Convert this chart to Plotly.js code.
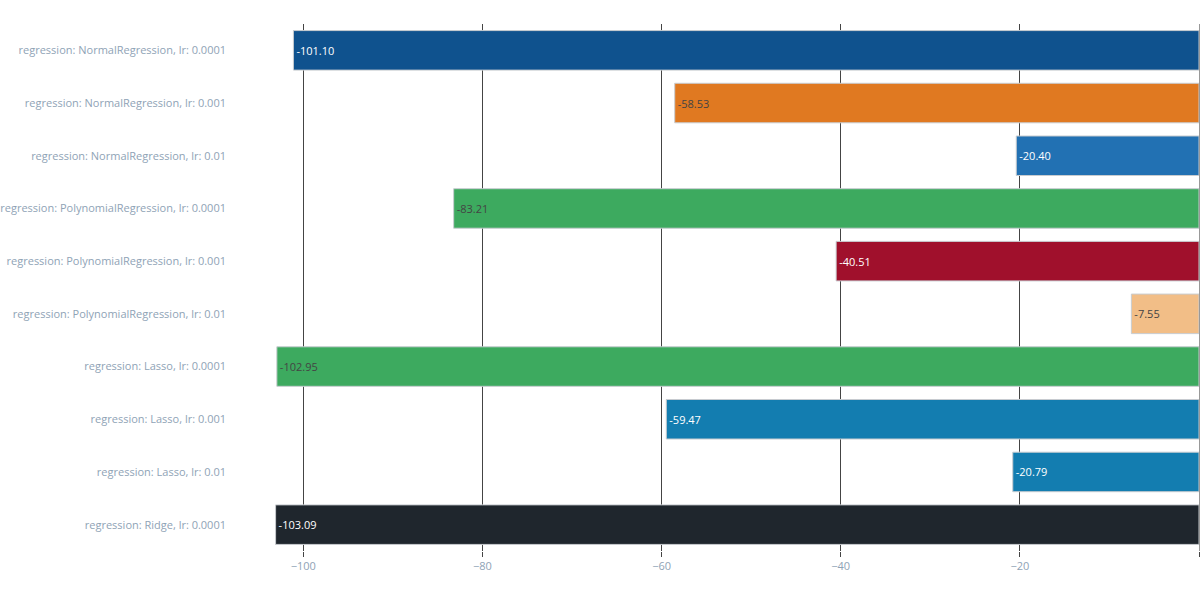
<!DOCTYPE html>
<html>
<head>
<meta charset="utf-8">
<script src="https://cdn.plot.ly/plotly-3.0.1.min.js"></script>
<style>html,body{margin:0;padding:0;background:#fff;}#chart{width:1200px;height:600px;}</style>
</head>
<body>
<div id="chart"></div>
<script>
const categories = [
  "regression: NormalRegression, lr: 0.0001",
  "regression: NormalRegression, lr: 0.001",
  "regression: NormalRegression, lr: 0.01",
  "regression: PolynomialRegression, lr: 0.0001",
  "regression: PolynomialRegression, lr: 0.001",
  "regression: PolynomialRegression, lr: 0.01",
  "regression: Lasso, lr: 0.0001",
  "regression: Lasso, lr: 0.001",
  "regression: Lasso, lr: 0.01",
  "regression: Ridge, lr: 0.0001"
];
const values = [-101.10, -58.53, -20.40, -83.21, -40.51, -7.55, -102.95, -59.47, -20.79, -103.09];
const barColors = ["#0f528e", "#e07921", "#2271b3", "#3daa5f", "#a0102c", "#f2be87", "#3daa5f", "#137db0", "#137db0", "#1f262d"];

const trace = {
  type: "bar",
  orientation: "h",
  x: values,
  y: categories,
  text: values.map(v => v.toFixed(2)),
  textposition: "inside",
  insidetextanchor: "end",
  textfont: {size: 11, family: "Open Sans"},
  marker: {color: barColors, line: {color: "#c8ccd0", width: 1}},
  hoverinfo: "x+y"
};

const layout = {
  width: 1200,
  height: 600,
  margin: {l: 227, r: 1, t: 24, b: 49},
  paper_bgcolor: "#ffffff",
  plot_bgcolor: "#ffffff",
  font: {family: "Open Sans", color: "#8fa3b6", size: 11},
  bargap: 0.25,
  showlegend: false,
  xaxis: {
    showgrid: true,
    gridcolor: "#444444",
    gridwidth: 1,
    zeroline: true,
    zerolinecolor: "#999999",
    zerolinewidth: 1,
    ticks: "outside",
    ticklen: 5,
    tickcolor: "#444444",
    tickfont: {size: 11, color: "#8fa3b6"},
    showline: false,
    automargin: false
  },
  yaxis: {
    autorange: "reversed",
    showgrid: false,
    zeroline: false,
    ticks: "",
    tickfont: {size: 11, color: "#8fa3b6"},
    automargin: false
  }
};

Plotly.newPlot("chart", [trace], layout, {displayModeBar: false, staticPlot: true});
</script>
</body>
</html>
